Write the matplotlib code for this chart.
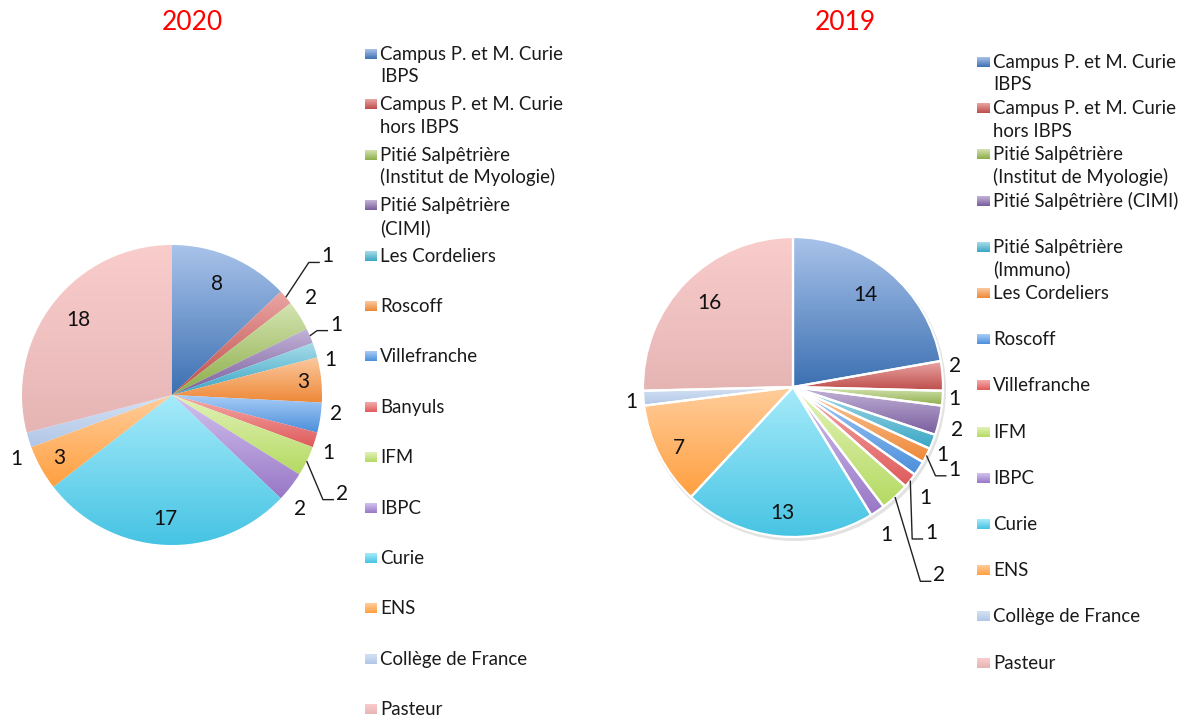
import numpy as np
import matplotlib
matplotlib.use("Agg")
import matplotlib.pyplot as plt
from matplotlib.colors import LinearSegmentedColormap
from matplotlib.patches import Circle

W, H = 1189, 722

# ---------------- data ----------------
title_2020 = "2020"
categories_2020 = ["Campus P. et M. Curie\nIBPS", "Campus P. et M. Curie\nhors IBPS",
                   "Pitié Salpêtrière\n(Institut de Myologie)", "Pitié Salpêtrière\n(CIMI)",
                   "Les Cordeliers", "Roscoff", "Villefranche", "Banyuls", "IFM", "IBPC",
                   "Curie", "ENS", "Collège de France", "Pasteur"]
values_2020 = [8, 1, 2, 1, 1, 3, 2, 1, 2, 2, 17, 3, 1, 18]

title_2019 = "2019"
categories_2019 = ["Campus P. et M. Curie\nIBPS", "Campus P. et M. Curie\nhors IBPS",
                   "Pitié Salpêtrière\n(Institut de Myologie)", "Pitié Salpêtrière (CIMI)",
                   "Pitié Salpêtrière\n(Immuno)", "Les Cordeliers", "Roscoff", "Villefranche",
                   "IFM", "IBPC", "Curie", "ENS", "Collège de France", "Pasteur"]
values_2019 = [14, 2, 1, 2, 1, 1, 1, 1, 2, 1, 13, 7, 1, 16]

# ---------------- style ----------------
colors_light = ["#a9c3ea", "#eaa6a4", "#d4e4b2", "#c3b4d8", "#aadcea", "#fbc9a0",
                "#a9cdf6", "#f6abab", "#e3f2b9", "#d3c3ef", "#a6ebfa", "#ffcd9b",
                "#d5e2f4", "#f9cdcc"]
colors_dark = ["#3c70b2", "#bd4c49", "#8cad48", "#785c9c", "#37a6c4", "#ee8836",
               "#4a8edb", "#df5b5b", "#b4da62", "#9877c6", "#45c3e3", "#ff9f3f",
               "#b0c6e7", "#e5b5b4"]

FONT = ["Lato", "DejaVu Sans"]
plt.rcParams["font.family"] = FONT

# label placement (distance factor, angle offset deg, leader line)
lab_2020 = [(0.80, 1, 0), (1.39, 1, 1), (1.13, 3, 0), (1.19, 0, 1), (1.08, -5, 0),
            (0.88, 0, 0), (1.10, 2, 0), (1.11, -3, 0), (1.31, -4, 1), (1.14, -4, 0),
            (0.83, 0, 0), (0.86, 0, 0), (1.12, 5, 0), (0.80, -1, 0)]
lab_2019 = [(0.78, 2, 0), (1.09, 3, 0), (1.08, 0, 0), (1.13, -2, 0), (1.09, -3, 0),
            (1.21, 0, 1), (1.15, -7, 0), (1.34, -8, 1), (1.59, -5, 1), (1.17, -2, 0),
            (0.84, 1, 0), (0.86, 1, 0), (1.08, 1, 0), (0.79, -1, 0)]

fig = plt.figure(figsize=(W / 100, H / 100), dpi=100)
ax = fig.add_axes([0, 0, 1, 1])
ax.set_xlim(0, W)
ax.set_ylim(0, H)
ax.set_aspect("equal")
ax.axis("off")

grad = np.linspace(0, 1, 256).reshape(-1, 1)


def grad_fill(patch, c_top, c_bot, z):
    v = patch.get_path().vertices
    x0, y0 = v.min(axis=0)
    x1, y1 = v.max(axis=0)
    cmap = LinearSegmentedColormap.from_list("g", [c_bot, c_top])
    im = ax.imshow(grad, extent=(x0, x1, y0, y1), origin="lower", cmap=cmap,
                   aspect="auto", interpolation="bilinear", zorder=z)
    im.set_clip_path(patch)


def draw_pie(values, cx, cy, r, labels, edge, shadow):
    Y = H - cy
    if shadow:
        ax.add_patch(Circle((cx + 1.5, Y - 2.5), r + 1.5, color="#bfbfbf", alpha=0.45,
                            zorder=1, lw=0))
    wedges, _ = ax.pie(values, center=(cx, Y), radius=r, startangle=90,
                       counterclock=False, frame=True, colors=colors_dark,
                       wedgeprops=dict(linewidth=0))
    for i, w in enumerate(wedges):
        grad_fill(w, colors_light[i], colors_dark[i], 2)
        w.set_facecolor("none")
        w.set_zorder(3)
        if edge:
            w.set_edgecolor("white")
            w.set_linewidth(1.6)
        mid = np.deg2rad((w.theta1 + w.theta2) / 2 + labels[i][1])
        d = labels[i][0] * r
        lx, ly = cx + d * np.cos(mid), Y + d * np.sin(mid)
        ax.text(lx, ly, str(values[i]), ha="center", va="center", fontsize=15,
                color="#111111", zorder=5)
        if labels[i][2]:
            m0 = np.deg2rad((w.theta1 + w.theta2) / 2)
            sx, sy = cx + r * np.cos(m0), Y + r * np.sin(m0)
            ax.plot([sx, lx - 19, lx - 8], [sy, ly - 6, ly - 6], color="#222222",
                    lw=1.0, zorder=4, solid_capstyle="butt")


def draw_legend(cats, x0, y0, step, mw, mh, tx):
    for i, c in enumerate(cats):
        yc = H - (y0 + i * step)
        cmap = LinearSegmentedColormap.from_list("g", [colors_dark[i], colors_light[i]])
        ax.imshow(grad, extent=(x0, x0 + mw, yc - mh / 2, yc + mh / 2), origin="lower",
                  cmap=cmap, aspect="auto", interpolation="bilinear", zorder=3)
        for k, line in enumerate(c.split("\n")):
            ax.text(tx, yc - 6 - k * 22.5, line, ha="left", va="baseline",
                    fontsize=13.4, color="#1a1a1a", zorder=5)


draw_pie(values_2020, 172, 395, 150, lab_2020, edge=False, shadow=False)
draw_pie(values_2019, 793, 387, 150, lab_2019, edge=True, shadow=True)

draw_legend(categories_2020, 365, 54, 50.4, 12, 10, 380)
draw_legend(categories_2019, 977, 62, 46.2, 13, 10, 993)

ax.text(192, H - 22, title_2020, color="#ff0000", fontsize=19, ha="center", va="center")
ax.text(845, H - 23, title_2019, color="#ff0000", fontsize=19, ha="center", va="center")

ax.set_xlim(0, W)
ax.set_ylim(0, H)
ax.set_aspect("equal")
fig.savefig("out.png", dpi=100, facecolor="white")
